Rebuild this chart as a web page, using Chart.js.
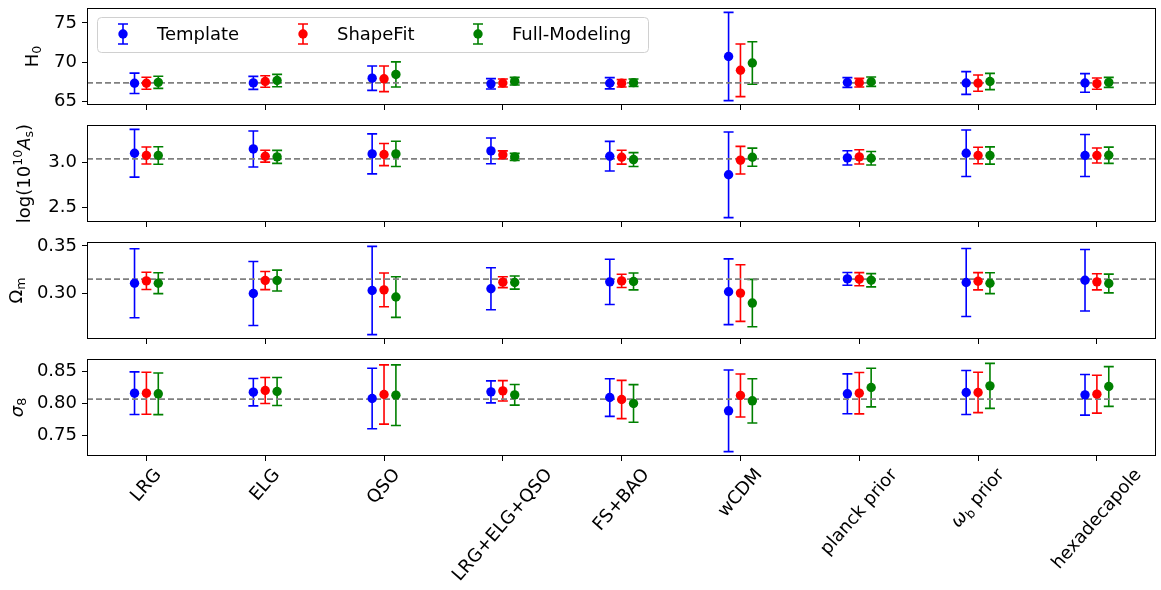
<!DOCTYPE html>
<html>
<head>
<meta charset="utf-8">
<title>Template / ShapeFit / Full-Modeling</title>
<script src="https://cdn.jsdelivr.net/npm/chart.js@4.4.1/dist/chart.umd.min.js"></script>
<style>
  body { margin: 0; background: #fff; }
  #fig { position: relative; width: 1161px; height: 590px; overflow: hidden; }
  #fig canvas { position: absolute; left: 0; }
</style>
</head>
<body>
<div id="fig"></div>
<script>
// x categories and series
const categories = ['LRG', 'ELG', 'QSO', 'LRG+ELG+QSO', 'FS+BAO', 'wCDM', 'planck prior', 'ω_b prior', 'hexadecapole'];
const seriesNames = ['Template', 'ShapeFit', 'Full-Modeling'];

// H0
const h0Template    = [67.30, 67.35, 67.95, 67.23, 67.30, 70.72, 67.40, 67.34, 67.34];
const h0TemplateErr = [1.30, 0.83, 1.55, 0.66, 0.72, 5.63, 0.62, 1.45, 1.19];
const h0Shape       = [67.30, 67.53, 67.87, 67.34, 67.30, 68.96, 67.38, 67.32, 67.25];
const h0ShapeErr    = [0.77, 0.74, 1.64, 0.51, 0.47, 3.36, 0.55, 1.04, 0.72];
const h0Full        = [67.42, 67.65, 68.43, 67.57, 67.38, 69.89, 67.50, 67.53, 67.42];
const h0FullErr     = [0.77, 0.79, 1.60, 0.49, 0.47, 2.72, 0.60, 1.04, 0.64];

// log(10^10 As)
const asTemplate    = [3.099, 3.147, 3.092, 3.125, 3.066, 2.860, 3.048, 3.099, 3.074];
const asTemplateErr = [0.265, 0.200, 0.222, 0.143, 0.165, 0.476, 0.079, 0.259, 0.233];
const asShape       = [3.074, 3.066, 3.085, 3.081, 3.055, 3.022, 3.059, 3.074, 3.074];
const asShapeErr    = [0.094, 0.066, 0.123, 0.044, 0.077, 0.153, 0.079, 0.092, 0.083];
const asFull        = [3.074, 3.059, 3.092, 3.059, 3.029, 3.055, 3.044, 3.074, 3.077];
const asFullErr     = [0.097, 0.072, 0.140, 0.039, 0.077, 0.101, 0.075, 0.096, 0.090];

// Omega_m
const omTemplate    = [0.3110, 0.3003, 0.3034, 0.3052, 0.3124, 0.3021, 0.3155, 0.3117, 0.3141];
const omTemplateErr = [0.0360, 0.0334, 0.0460, 0.0219, 0.0236, 0.0343, 0.0067, 0.0355, 0.0321];
const omShape       = [0.3134, 0.3138, 0.3041, 0.3121, 0.3134, 0.3007, 0.3152, 0.3131, 0.3124];
const omShapeErr    = [0.0090, 0.0095, 0.0176, 0.0057, 0.0069, 0.0295, 0.0069, 0.0090, 0.0084];
const omFull        = [0.3110, 0.3138, 0.2966, 0.3117, 0.3128, 0.2903, 0.3141, 0.3110, 0.3107];
const omFullErr     = [0.0109, 0.0109, 0.0212, 0.0069, 0.0088, 0.0247, 0.0069, 0.0109, 0.0098];

// sigma_8
const s8Template    = [0.8162, 0.8178, 0.8079, 0.8183, 0.8094, 0.7885, 0.8152, 0.8173, 0.8136];
const s8TemplateErr = [0.0335, 0.0215, 0.0476, 0.0173, 0.0296, 0.0641, 0.0314, 0.0346, 0.0319];
const s8Shape       = [0.8162, 0.8204, 0.8141, 0.8199, 0.8063, 0.8126, 0.8162, 0.8173, 0.8147];
const s8ShapeErr    = [0.0330, 0.0204, 0.0466, 0.0160, 0.0301, 0.0338, 0.0325, 0.0317, 0.0298];
const s8Full        = [0.8152, 0.8188, 0.8131, 0.8136, 0.8000, 0.8042, 0.8251, 0.8277, 0.8267];
const s8FullErr     = [0.0327, 0.0220, 0.0476, 0.0162, 0.0296, 0.0348, 0.0304, 0.0353, 0.0312];

// fiducial (dashed) values
const refH0 = 67.36;
const refLogAs = 3.0355;
const refOmegaM = 0.3152;
const refSigma8 = 0.807;

// y tick values
const h0Ticks = [65, 70, 75];
const asTicks = [2.5, 3.0];
const omTicks = [0.30, 0.35];
const s8Ticks = [0.75, 0.80, 0.85];

const FONT = '"DejaVu Sans", sans-serif';
const FS = 18;
const colors = ['#0000ff', '#ff0000', '#008000'];
const offsets = [-0.1, 0, 0.1];
const CAP = 5;
const PLOT_H = 97, PAD_TOP = 8, AXIS_W = 87;

const panels = [
  { top: 8,   titleX: 33, dec: 0, ticks: h0Ticks, ref: refH0,
    title: [{ t: 'H' }, { t: '0', sub: true }],
    series: [[h0Template, h0TemplateErr], [h0Shape, h0ShapeErr], [h0Full, h0FullErr]] },
  { top: 125, titleX: 25, dec: 1, ticks: asTicks, ref: refLogAs,
    title: [{ t: 'log(10' }, { t: '10', sup: true }, { t: 'A', it: true }, { t: 's', sub: true }, { t: ')' }],
    series: [[asTemplate, asTemplateErr], [asShape, asShapeErr], [asFull, asFullErr]] },
  { top: 242, titleX: 17, dec: 2, ticks: omTicks, ref: refOmegaM,
    title: [{ t: 'Ω' }, { t: 'm', sub: true }],
    series: [[omTemplate, omTemplateErr], [omShape, omShapeErr], [omFull, omFullErr]] },
  { top: 359, titleX: 18, dec: 2, ticks: s8Ticks, ref: refSigma8,
    title: [{ t: 'σ', it: true }, { t: '8', sub: true }],
    series: [[s8Template, s8TemplateErr], [s8Shape, s8ShapeErr], [s8Full, s8FullErr]] }
];

// --- small mathtext-ish helpers ---
function partFont(p, size) {
  const sz = (p.sub || p.sup) ? size * 0.7 : size;
  return (p.it ? 'italic ' : '') + sz + 'px ' + FONT;
}
function partsWidth(ctx, parts, size) {
  let w = 0;
  parts.forEach(p => { ctx.font = partFont(p, size); w += ctx.measureText(p.t).width; });
  return w;
}
function drawParts(ctx, parts, size) {
  let x = -partsWidth(ctx, parts, size) / 2;
  ctx.textAlign = 'left';
  ctx.textBaseline = 'middle';
  ctx.fillStyle = '#000';
  parts.forEach(p => {
    ctx.font = partFont(p, size);
    const dy = p.sub ? size * 0.28 : p.sup ? -size * 0.36 : 0;
    ctx.fillText(p.t, x, dy);
    x += ctx.measureText(p.t).width;
  });
}
function labelParts(label) {
  const k = label.indexOf('_');
  if (k < 0) return [{ t: label }];
  return [{ t: label.slice(0, k), it: true }, { t: label[k + 1], sub: true }, { t: label.slice(k + 2) }];
}

// error bars drawn from the data through the y scale
const errorBars = {
  id: 'errorBars',
  beforeDatasetsDraw(chart) {
    const ctx = chart.ctx, ys = chart.scales.y;
    chart.data.datasets.forEach((ds, di) => {
      if (!ds.errors) return;
      const meta = chart.getDatasetMeta(di);
      ctx.save();
      ctx.strokeStyle = ds.backgroundColor;
      ctx.lineWidth = 1.6;
      meta.data.forEach((pt, j) => {
        const v = ds.data[j].y, e = ds.errors[j];
        const top = ys.getPixelForValue(v + e), bot = ys.getPixelForValue(v - e);
        ctx.beginPath();
        ctx.moveTo(pt.x, top); ctx.lineTo(pt.x, bot);
        ctx.moveTo(pt.x - CAP, top); ctx.lineTo(pt.x + CAP, top);
        ctx.moveTo(pt.x - CAP, bot); ctx.lineTo(pt.x + CAP, bot);
        ctx.stroke();
      });
      ctx.restore();
    });
  }
};

const frame = {
  id: 'frame',
  afterDraw(chart, args, opts) {
    const ctx = chart.ctx, a = chart.chartArea;
    ctx.save();
    ctx.strokeStyle = '#000';
    ctx.lineWidth = 1;
    ctx.strokeRect(Math.round(a.left) + 0.5, Math.round(a.top) + 0.5,
                   Math.round(a.right - a.left) - 1, Math.round(a.bottom - a.top) - 1);
    // y title
    ctx.translate(opts.titleX, (a.top + a.bottom) / 2);
    ctx.rotate(-Math.PI / 2);
    drawParts(ctx, opts.title, FS);
    ctx.restore();
  }
};

const legendBox = {
  id: 'legendBox',
  afterDraw(chart, args, opts) {
    if (!opts.show) return;
    const ctx = chart.ctx;
    ctx.save();
    ctx.beginPath();
    ctx.roundRect(97.5, 17.5, 551, 35, 4);
    ctx.fillStyle = 'rgba(255,255,255,0.8)';
    ctx.fill();
    ctx.strokeStyle = '#d0d0d0';
    ctx.lineWidth = 1;
    ctx.stroke();
    const cy = 34, handleX = [123, 303, 478];
    seriesNames.forEach((name, s) => {
      const x = handleX[s];
      ctx.strokeStyle = colors[s];
      ctx.lineWidth = 1.6;
      ctx.beginPath();
      ctx.moveTo(x, cy - 10); ctx.lineTo(x, cy + 10);
      ctx.moveTo(x - CAP, cy - 10); ctx.lineTo(x + CAP, cy - 10);
      ctx.moveTo(x - CAP, cy + 10); ctx.lineTo(x + CAP, cy + 10);
      ctx.stroke();
      ctx.fillStyle = colors[s];
      ctx.beginPath();
      ctx.arc(x, cy, 4.7, 0, Math.PI * 2);
      ctx.fill();
      ctx.fillStyle = '#000';
      ctx.font = FS + 'px ' + FONT;
      ctx.textAlign = 'left';
      ctx.textBaseline = 'middle';
      ctx.fillText(name, x + 34, cy + 1);
    });
    ctx.restore();
  }
};

// rotated category labels under the last panel
const xLabels = {
  id: 'xLabels',
  afterDraw(chart, args, opts) {
    if (!opts.show) return;
    const ctx = chart.ctx, xs = chart.scales.x, a = chart.chartArea;
    const ang = 49 * Math.PI / 180, h = FS * 1.15;
    categories.forEach((c, i) => {
      const parts = labelParts(c);
      const w = partsWidth(ctx, parts, FS);
      const side = w * Math.sin(ang) + h * Math.cos(ang);
      ctx.save();
      ctx.translate(xs.getPixelForValue(i), a.bottom + 9 + side / 2);
      ctx.rotate(-ang);
      drawParts(ctx, parts, FS);
      ctx.restore();
    });
  }
};

Chart.defaults.font.family = FONT;
Chart.defaults.font.size = FS;
Chart.defaults.color = '#000';

const fig = document.getElementById('fig');
panels.forEach((p, k) => {
  const last = k === panels.length - 1;
  const canvasTop = p.top - PAD_TOP;
  const canvasH = last ? 590 - canvasTop : PAD_TOP + PLOT_H + 12;
  const cv = document.createElement('canvas');
  cv.width = 1161; cv.height = canvasH;
  cv.style.top = canvasTop + 'px';
  cv.style.width = '1161px'; cv.style.height = canvasH + 'px';
  fig.appendChild(cv);

  // matplotlib-like autoscale: data extent (with error bars) plus 5 % margins
  let lo = Infinity, hi = -Infinity;
  p.series.forEach(([v, e]) => v.forEach((y, i) => {
    lo = Math.min(lo, y - e[i]); hi = Math.max(hi, y + e[i]);
  }));
  const m = (hi - lo) * 0.05;

  const datasets = p.series.map(([v, e], s) => ({
    type: 'scatter',
    label: seriesNames[s],
    data: v.map((y, i) => ({ x: i + offsets[s], y })),
    errors: e,
    backgroundColor: colors[s],
    borderWidth: 0,
    pointRadius: 4.7,
    order: 1
  }));
  datasets.push({
    type: 'line',
    label: 'fiducial',
    data: [{ x: -0.5, y: p.ref }, { x: categories.length - 0.5, y: p.ref }],
    borderColor: '#808080',
    borderWidth: 1.8,
    borderDash: [6, 3],
    pointRadius: 0,
    order: 5
  });

  new Chart(cv, {
    data: { datasets },
    plugins: [errorBars, frame, legendBox, xLabels],
    options: {
      responsive: false,
      animation: false,
      events: [],
      layout: { padding: { top: PAD_TOP, left: 0, right: 2, bottom: 0 } },
      scales: {
        x: {
          type: 'linear',
          min: -0.5,
          max: categories.length - 0.5,
          afterBuildTicks: s => { s.ticks = categories.map((c, i) => ({ value: i })); },
          afterFit: s => {
            s.height = canvasH - PAD_TOP - PLOT_H;
            s.paddingLeft = 0; s.paddingRight = 0;
          },
          ticks: { display: false },
          grid: { drawOnChartArea: false, tickLength: 5, color: '#000', lineWidth: 1 },
          border: { display: false }
        },
        y: {
          type: 'linear',
          min: lo - m,
          max: hi + m,
          afterBuildTicks: s => { s.ticks = p.ticks.map(v => ({ value: v })); },
          afterFit: s => {
            s.width = AXIS_W;
            s.paddingTop = 0; s.paddingBottom = 0;
          },
          ticks: { padding: 5, callback: v => Number(v).toFixed(p.dec), font: { size: FS } },
          grid: { drawOnChartArea: false, tickLength: 5, color: '#000', lineWidth: 1 },
          border: { display: false }
        }
      },
      plugins: {
        legend: { display: false },
        tooltip: { enabled: false },
        frame: { titleX: p.titleX, title: p.title },
        legendBox: { show: k === 0 },
        xLabels: { show: last }
      }
    }
  });
});
</script>
</body>
</html>
